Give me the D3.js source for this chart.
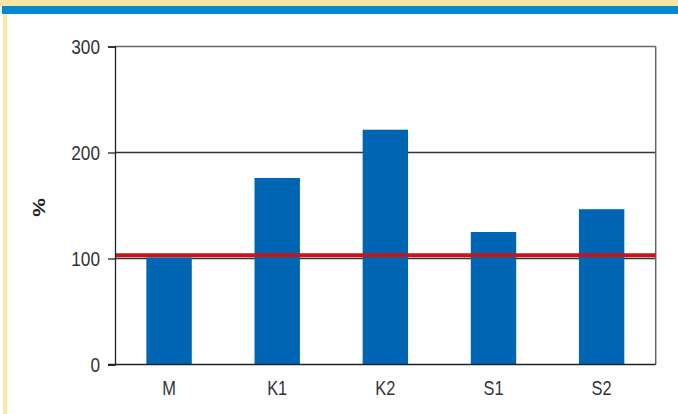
<!DOCTYPE html>
<html>
<head>
<meta charset="utf-8">
<script src="https://cdn.jsdelivr.net/npm/d3@7"></script>
<style>
  body { margin: 0; background: #fff; }
  svg text { font-family: "Liberation Sans", Arial, sans-serif; }
</style>
</head>
<body>
<div id="chart"></div>
<script>
const categories = ["M", "K1", "K2", "S1", "S2"];
const values = [101, 176, 221.5, 125, 146.5];
const yTicks = [0, 100, 200, 300];
const refValue = 103;

function init() {
    const width = 678;
    const height = 414;
    const margin = { left: 115, right: 22.3, top: 46.5, bottom: 49.5 };
    const narrow = 0.82; // squeeze to look like a condensed face
    const fontFam = "'Liberation Sans', Arial, sans-serif";

    const svg = d3.select("#chart")
        .append("svg")
        .attr("width", width)
        .attr("height", height);

    // decorative frame bands
    svg.append("rect").attr("x", 0).attr("y", 0).attr("width", width).attr("height", 6).attr("fill", "#f8e4a4");
    svg.append("rect").attr("x", 2).attr("y", 6).attr("width", width - 2).attr("height", 8).attr("fill", "#008bd0");
    svg.append("rect").attr("x", 3).attr("y", 14).attr("width", 4).attr("height", height - 14).attr("fill", "#fbe7a9");

    const x = d3.scaleBand()
        .domain(categories)
        .range([margin.left, width - margin.right])
        .paddingInner(0.58)
        .paddingOuter(0.29);

    const y = d3.scaleLinear()
        .domain([0, 300])
        .range([height - margin.bottom, margin.top]);

    // gridlines
    svg.append("g")
        .selectAll("line")
        .data(yTicks.filter(d => d > 0))
        .join("line")
        .attr("x1", margin.left)
        .attr("x2", width - margin.right)
        .attr("y1", d => y(d))
        .attr("y2", d => y(d))
        .attr("stroke", d => d === 300 ? "#666" : "#333")
        .attr("stroke-width", 1.3);

    // right border
    svg.append("line")
        .attr("x1", width - margin.right).attr("x2", width - margin.right)
        .attr("y1", margin.top).attr("y2", height - margin.bottom)
        .attr("stroke", "#666").attr("stroke-width", 1.5);

    // bars
    svg.append("g")
        .selectAll("rect")
        .data(values)
        .join("rect")
        .attr("x", (d, i) => x(categories[i]))
        .attr("y", d => y(d))
        .attr("width", x.bandwidth())
        .attr("height", d => y(0) - y(d))
        .attr("fill", "#0066b3");

    // reference line
    svg.append("line")
        .attr("x1", margin.left)
        .attr("x2", width - margin.right)
        .attr("y1", y(refValue))
        .attr("y2", y(refValue))
        .attr("stroke", "#c4161c")
        .attr("stroke-width", 4);

    // y axis
    const yAxis = svg.append("g")
        .attr("transform", `translate(${margin.left},0)`)
        .call(d3.axisLeft(y).tickValues(yTicks).tickSize(7).tickPadding(8));
    yAxis.select(".domain").attr("stroke", "#222").attr("stroke-width", 1.3);
    yAxis.selectAll(".tick line").attr("stroke", "#222").attr("stroke-width", 1.3);
    yAxis.selectAll("text")
        .attr("font-size", 21)
        .attr("fill", "#333")
        .attr("x", -15 / narrow)
        .attr("transform", `scale(${narrow},1)`)
        .style("font-family", fontFam);

    // x axis
    const xAxis = svg.append("g")
        .attr("transform", `translate(0,${y(0)})`)
        .call(d3.axisBottom(x).tickSize(0).tickPadding(16));
    xAxis.select(".domain").attr("stroke", "#222").attr("stroke-width", 1.5)
        .attr("d", `M${margin.left - 7},0H${width - margin.right}`);
    xAxis.selectAll("text")
        .attr("font-size", 20)
        .attr("fill", "#333")
        .attr("transform", `scale(${narrow},1)`)
        .style("font-family", fontFam);

    // y label
    svg.append("text")
        .attr("transform", `translate(45,${(y(0) + y(300)) / 2 + 2}) rotate(-90) scale(1,${narrow})`)
        .attr("text-anchor", "middle")
        .attr("font-size", 21)
        .attr("font-weight", "bold")
        .attr("fill", "#222")
        .style("font-family", fontFam)
        .text("%");
}

window.onload = init;
</script>
</body>
</html>
